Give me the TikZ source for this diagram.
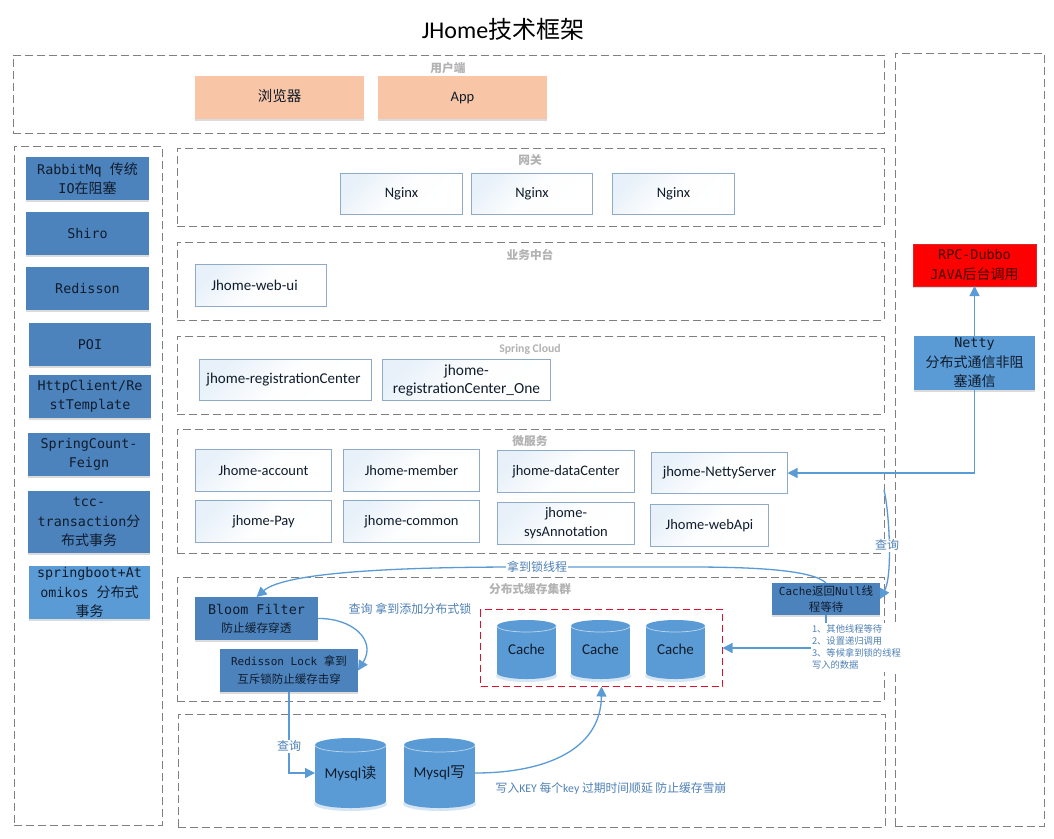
\documentclass[tikz,border=0pt]{standalone}
\usepackage{fontspec}
\setmainfont{Carlito}
\setmonofont[Scale=0.957]{DejaVu Sans Mono}
\newfontfamily\cjk{Noto Sans CJK SC}
\usetikzlibrary{arrows.meta,shadows}
\newcommand{\C}[1]{{\cjk #1}}
\newcommand{\fs}[2]{\fontsize{#1}{#2}\selectfont}
\definecolor{dkblue}{HTML}{4C83BD}
\definecolor{ltblue}{HTML}{5B9BD5}
\definecolor{lnblue}{HTML}{5B9BD5}
\definecolor{txblue}{HTML}{4F81B5}
\definecolor{peach}{HTML}{F8C6A6}
\definecolor{dashgray}{HTML}{7F7F7F}
\definecolor{lblgray}{HTML}{B2B2B2}
\definecolor{edge}{HTML}{8FAAC6}
\definecolor{inktext}{HTML}{101C2C}
\definecolor{clusterred}{HTML}{E0102A}
\tikzset{
  base/.style={inner sep=0pt,outer sep=0pt,align=center},
  region/.style={base,draw=dashgray,line width=0.8pt,dash pattern=on 8pt off 4pt},
  regionlabel/.style={base,text=lblgray,font=\fs{11.7}{13}\cjk\bfseries},
  softshadow/.style={general shadow={shadow xshift=0pt,shadow yshift=-2pt,fill=black,opacity=.14}},
  whitebox/.style={base,draw=edge,line width=1.2pt,top color=white!86!ltblue,bottom color=white,middle color=white!99!ltblue,shading angle=45,
     text=inktext,font=\fs{15}{19}},
  peachbox/.style={base,softshadow,fill=peach,text=inktext,text height=10pt,text depth=3pt,font=\fs{14.5}{19}},
  darkbox/.style={base,softshadow,fill=dkblue,text=inktext,font=\fs{14}{19.5}\ttfamily},
  lightbox/.style={base,softshadow,fill=ltblue,text=inktext,font=\fs{14}{19.5}\ttfamily},
  redbox/.style={base,softshadow,fill=red,draw=red!70!gray,line width=.8pt,text=red!25!black,font=\fs{14}{19.5}\ttfamily},
  conn/.style={draw=lnblue,line width=1.3pt,-{Triangle[length=10pt,width=10pt]}},
  bluetext/.style={base,text=txblue,font=\fs{12}{14}\cjk},
  cyltext/.style={base,text=inktext,font=\fs{15}{18}},
}
% \bx{style}{name}{x1}{y1}{x2}{y2}{text}
\newcommand{\bx}[7]{%
  \pgfmathsetmacro{\bxw}{#5-#3}\pgfmathsetmacro{\bxh}{#6-#4}%
  \node[#1,minimum width=\bxw pt,minimum height=\bxh pt] (#2) at ({(#3+#5)/2},{(#4+#6)/2}) {#7};}
% \cyl{name}{x1}{y1}{x2}{y2}{r}{text}
\newcommand{\cyl}[7]{%
  \pgfmathsetmacro{\cxc}{(#2+#4)/2}\pgfmathsetmacro{\cya}{(#4-#2)/2}%
  \pgfmathsetmacro{\cyt}{#3+#6}\pgfmathsetmacro{\cyb}{#5-#6}%
  \fill[ltblue,opacity=.25] (\cxc,\cyb+3) ellipse[x radius=\cya+1,y radius=#6];
  \fill[ltblue] (\cxc,\cyt) ellipse[x radius=\cya,y radius=#6];
  \fill[ltblue] (\cxc,\cyb) ellipse[x radius=\cya,y radius=#6];
  \fill[ltblue] (#2,\cyt) rectangle (#4,\cyb);
  \draw[white!60!ltblue,line width=.7pt] plot[domain=0:180,samples=40] ({\cxc+\cya*cos(\x)},{\cyt+#6*sin(\x)});
  \pgfmathsetmacro{\bxw}{#4-#2}\pgfmathsetmacro{\bxh}{#5-#3}%
  \node[cyltext,minimum width=\bxw pt,minimum height=\bxh pt] (#1) at (\cxc,{(#3+#5)/2}) {#7};}
\begin{document}
\begin{tikzpicture}[x=1pt,y=-1pt]
\useasboundingbox (0,0) rectangle (1054,838);
\fill[white] (0,0) rectangle (1054,838);

\node[base,text=black,font=\fs{24}{28}] (title) at (503,29) {JHome\C{技术框架}};

% dashed regions
\bx{region}{rUser}{13}{55}{884}{133}{}
\bx{region}{rLeft}{14}{146}{162}{825}{}
\bx{region}{rRight}{895}{53}{1044}{826}{}
\bx{region}{rGate}{177}{148}{884}{226}{}
\bx{region}{rBiz}{177}{242}{884}{320}{}
\bx{region}{rSpring}{177}{336}{884}{414}{}
\bx{region}{rMicro}{177}{429}{884}{553}{}
\bx{region}{rCache}{177}{577}{884}{701}{}
\bx{region}{rDb}{178}{714}{885}{827}{}

\node[regionlabel] (lUser) at (448,68) {用户端};
\node[regionlabel] (lGate) at (530,160) {网关};
\node[regionlabel] (lBiz) at (530,255) {业务中台};
\node[regionlabel,font=\fs{11.7}{13}\bfseries] (lSpring) at (530,349) {Spring Cloud};
\node[regionlabel] (lMicro) at (530,441) {微服务};
\node[regionlabel] (lCache) at (530,589) {分布式缓存集群};

% client
\bx{peachbox}{browser}{195}{76}{364}{119}{\C{浏览器}}
\bx{peachbox}{app}{378}{76}{547}{119}{App}

% gateway
\bx{whitebox,font=\fs{14.5}{19}}{ng1}{340.5}{173.5}{462.5}{214.5}{Nginx}
\bx{whitebox,font=\fs{14.5}{19}}{ng2}{471.5}{173.5}{592.5}{214.5}{Nginx}
\bx{whitebox,font=\fs{14.5}{19}}{ng3}{612.5}{173.5}{734.5}{214.5}{Nginx}

\bx{whitebox}{webui}{195.5}{264.5}{326.5}{306.5}{Jhome-web-ui\rule{13pt}{0pt}}

\bx{whitebox}{reg}{199.5}{359.5}{371.5}{400.5}{jhome-registrationCenter\rule{4pt}{0pt}}
\bx{whitebox,font=\fs{15.4}{18}}{regone}{382.5}{359.5}{550.5}{400.5}{jhome-\\registrationCenter\_One}

% micro services
\bx{whitebox,font=\fs{14.5}{19}}{account}{195.5}{449.5}{331.5}{491.5}{Jhome-account}
\bx{whitebox,font=\fs{14.5}{19}}{member}{343.5}{449.5}{479.5}{491.5}{Jhome-member}
\bx{whitebox,font=\fs{14.5}{19}}{datac}{497.5}{450.5}{634.5}{492.5}{jhome-dataCenter}
\bx{whitebox,font=\fs{14.7}{19}}{server}{651.5}{452.5}{787.5}{493.5}{jhome-NettyServer}
\bx{whitebox,font=\fs{14.5}{19}}{pay}{195.5}{500.5}{331.5}{542.5}{jhome-Pay}
\bx{whitebox,font=\fs{14.5}{19}}{common}{343.5}{500.5}{479.5}{542.5}{jhome-common}
\bx{whitebox,font=\fs{14.5}{19}}{sysann}{497.5}{502.5}{634.5}{544.5}{jhome-\\sysAnnotation}
\bx{whitebox,font=\fs{14.5}{19}}{webapi}{650.5}{504.5}{768.5}{546.5}{Jhome-webApi}

% left column
\bx{darkbox}{rabbit}{26}{157}{149}{200}{RabbitMq \C{传统}\\IO\C{在阻塞}}
\bx{darkbox}{shiro}{26}{212}{149}{255}{Shiro}
\bx{darkbox}{redisson}{26}{267}{149}{310}{Redisson}
\bx{darkbox}{poi}{29}{323}{151}{366}{POI}
\bx{darkbox}{http}{29}{375}{151}{418}{HttpClient/Re\\stTemplate}
\bx{darkbox}{feign}{28}{433}{150}{476}{SpringCount-\\Feign}
\bx{darkbox}{tcc}{28}{491}{150}{553}{tcc-\\transaction\C{分}\\\C{布式事务}}
\bx{lightbox}{atom}{29}{566}{150}{619}{springboot+At\\omikos \C{分布式}\\\C{事务}}

% right column
\bx{redbox}{rpc}{913}{244}{1036}{286}{RPC-Dubbo\\JAVA\C{后台调用}}
\bx{lightbox}{netty}{914}{336}{1035}{390}{Netty\\\C{分布式通信非阻}\\\C{塞通信}}

% cache cluster
\bx{darkbox,font=\fs{14}{20}\ttfamily}{bloom}{195}{597}{318}{640}{Bloom Filter\\[-2pt]{\fs{11.7}{16}\C{防止缓存穿透}}}
\bx{darkbox,font=\fs{11.5}{18}\ttfamily}{lock}{220}{649}{358}{692}{Redisson Lock \C{拿到}\\\C{互斥锁防止缓存击穿}}
\bx{base,draw=clusterred,line width=0.9pt,dash pattern=on 7pt off 4pt}{cluster}{480.5}{609.5}{722.5}{686.5}{}
\cyl{cacheA}{497}{620}{556}{679}{6}{Cache}
\cyl{cacheB}{571}{620}{630}{679}{6}{Cache}
\cyl{cacheC}{646}{620}{705}{679}{6}{Cache}
\bx{darkbox,font=\fs{11.5}{16}\ttfamily}{nullbox}{772}{583}{880}{615}{Cache\C{返回}Null\C{线}\\\C{程等待}}

% databases
\cyl{read}{315}{738}{386}{808}{7}{Mysql\C{读}}
\cyl{write}{404}{738}{475}{808}{7}{Mysql\C{写}}

% connectors
\coordinate (qstart) at (884,490);
\draw[conn] (netty.north) -- (rpc.south);
\draw[conn] (netty.south) |- (server.east);
\draw[conn] (qstart) .. controls (889,510) and (893,575) .. (nullbox.east);
\draw[conn] (nullbox.north) .. controls (812,569) and (745,567) .. (690,567) -- (520,567) .. controls (400,567) and (285,572) .. (bloom.north);
\draw[conn] (bloom.east) .. controls (352,618) and (377,640) .. (lock.east);
\draw[conn] (lock.south) |- (read.west);
\draw[conn] (write.east) .. controls (545,773) and (601,750) .. (cluster.south);
\draw[conn] (nullbox.south) |- (cluster.east);

% connector labels
\node[bluetext,fill=white,inner xsep=1pt,inner ysep=1pt] (tQuery) at (887,545) {查询};
\node[bluetext,fill=white,inner xsep=1pt,inner ysep=1pt] (tLock) at (537,567) {拿到锁线程};
\node[bluetext] (tAdd) at (410,609) {查询 拿到添加分布式锁};
\node[bluetext,fill=white,inner xsep=1pt,inner ysep=1pt] (tRead) at (289,746) {查询};
\node[bluetext,font=\fs{11.8}{14}] (tKey) at (611,788) {\C{写入}KEY \C{每个}key \C{过期时间顺延 防止缓存雪崩}};
\node[bluetext,fill=white,align=left,anchor=north west,inner xsep=1pt,inner ysep=2pt,text width=84pt,font=\fs{9.3}{12}\cjk] (tList) at (811,623)
  {1、其他线程等待\\2、设置递归调用\\3、等候拿到锁的线程\\写入的数据};
\end{tikzpicture}
\end{document}
